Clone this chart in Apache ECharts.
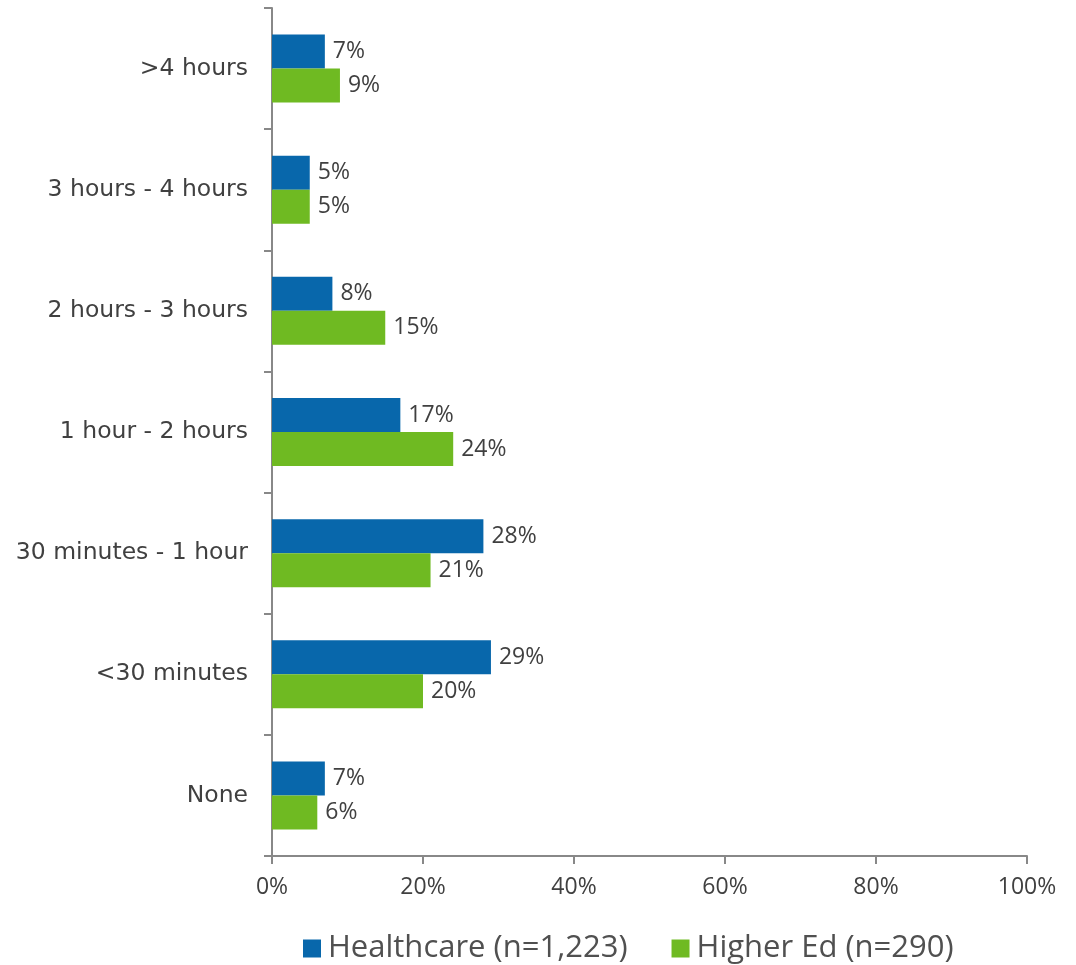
<!DOCTYPE html>
<html><head><meta charset="utf-8">
<script src="https://cdn.jsdelivr.net/npm/echarts@6/dist/echarts.min.js"></script>
<style>html,body{margin:0;padding:0;background:#fff}#c{width:1076px;height:965px}</style>
</head><body><div id="c"></div>
<script>
const categories = ['None','<30 minutes','30 minutes - 1 hour','1 hour - 2 hours','2 hours - 3 hours','3 hours - 4 hours','>4 hours'];
const healthcare = [7,29,28,17,8,5,7];
const higherEd = [6,20,21,24,15,5,9];
const seriesNames = ['Healthcare (n=1,223)','Higher Ed (n=290)'];
const FONT = 'Open Sans';
const chart = echarts.init(document.getElementById('c'));
const labelCfg = {show:true, position:'right', distance:8, formatter:'{c}%', color:'#404040', fontSize:23, fontFamily:FONT};
chart.setOption({
  animation:false,
  grid:{left:272,right:49,top:8,bottom:109,containLabel:false},
  legend:{top:928,left:298,itemWidth:18,itemHeight:18,itemGap:44,icon:'rect',
    textStyle:{color:'#505050',fontSize:31,fontFamily:FONT,padding:[0,0,0,2]},data:seriesNames},
  xAxis:{type:'value',min:0,max:100,interval:20,
    axisLine:{show:true,lineStyle:{color:'#888',width:2}},
    axisTick:{show:true,length:8,lineStyle:{color:'#888',width:2}},
    splitLine:{show:false},
    axisLabel:{formatter:'{value}%',color:'#404040',fontSize:23,fontFamily:FONT,margin:20}},
  yAxis:{type:'category',data:categories,
    axisLine:{show:true,lineStyle:{color:'#888',width:2}},
    axisTick:{show:true,length:8,inside:false,lineStyle:{color:'#888',width:2}},
    axisLabel:{color:'#404040',fontSize:23.5,fontFamily:'DejaVu Sans',margin:24}},
  series:[
    {name:seriesNames[0],type:'bar',data:healthcare,barWidth:34,barGap:'0%',itemStyle:{color:'#0867ab'},label:labelCfg},
    {name:seriesNames[1],type:'bar',data:higherEd,barWidth:34,barGap:'0%',itemStyle:{color:'#6fba22'},label:labelCfg}
  ]
});
</script></body></html>
